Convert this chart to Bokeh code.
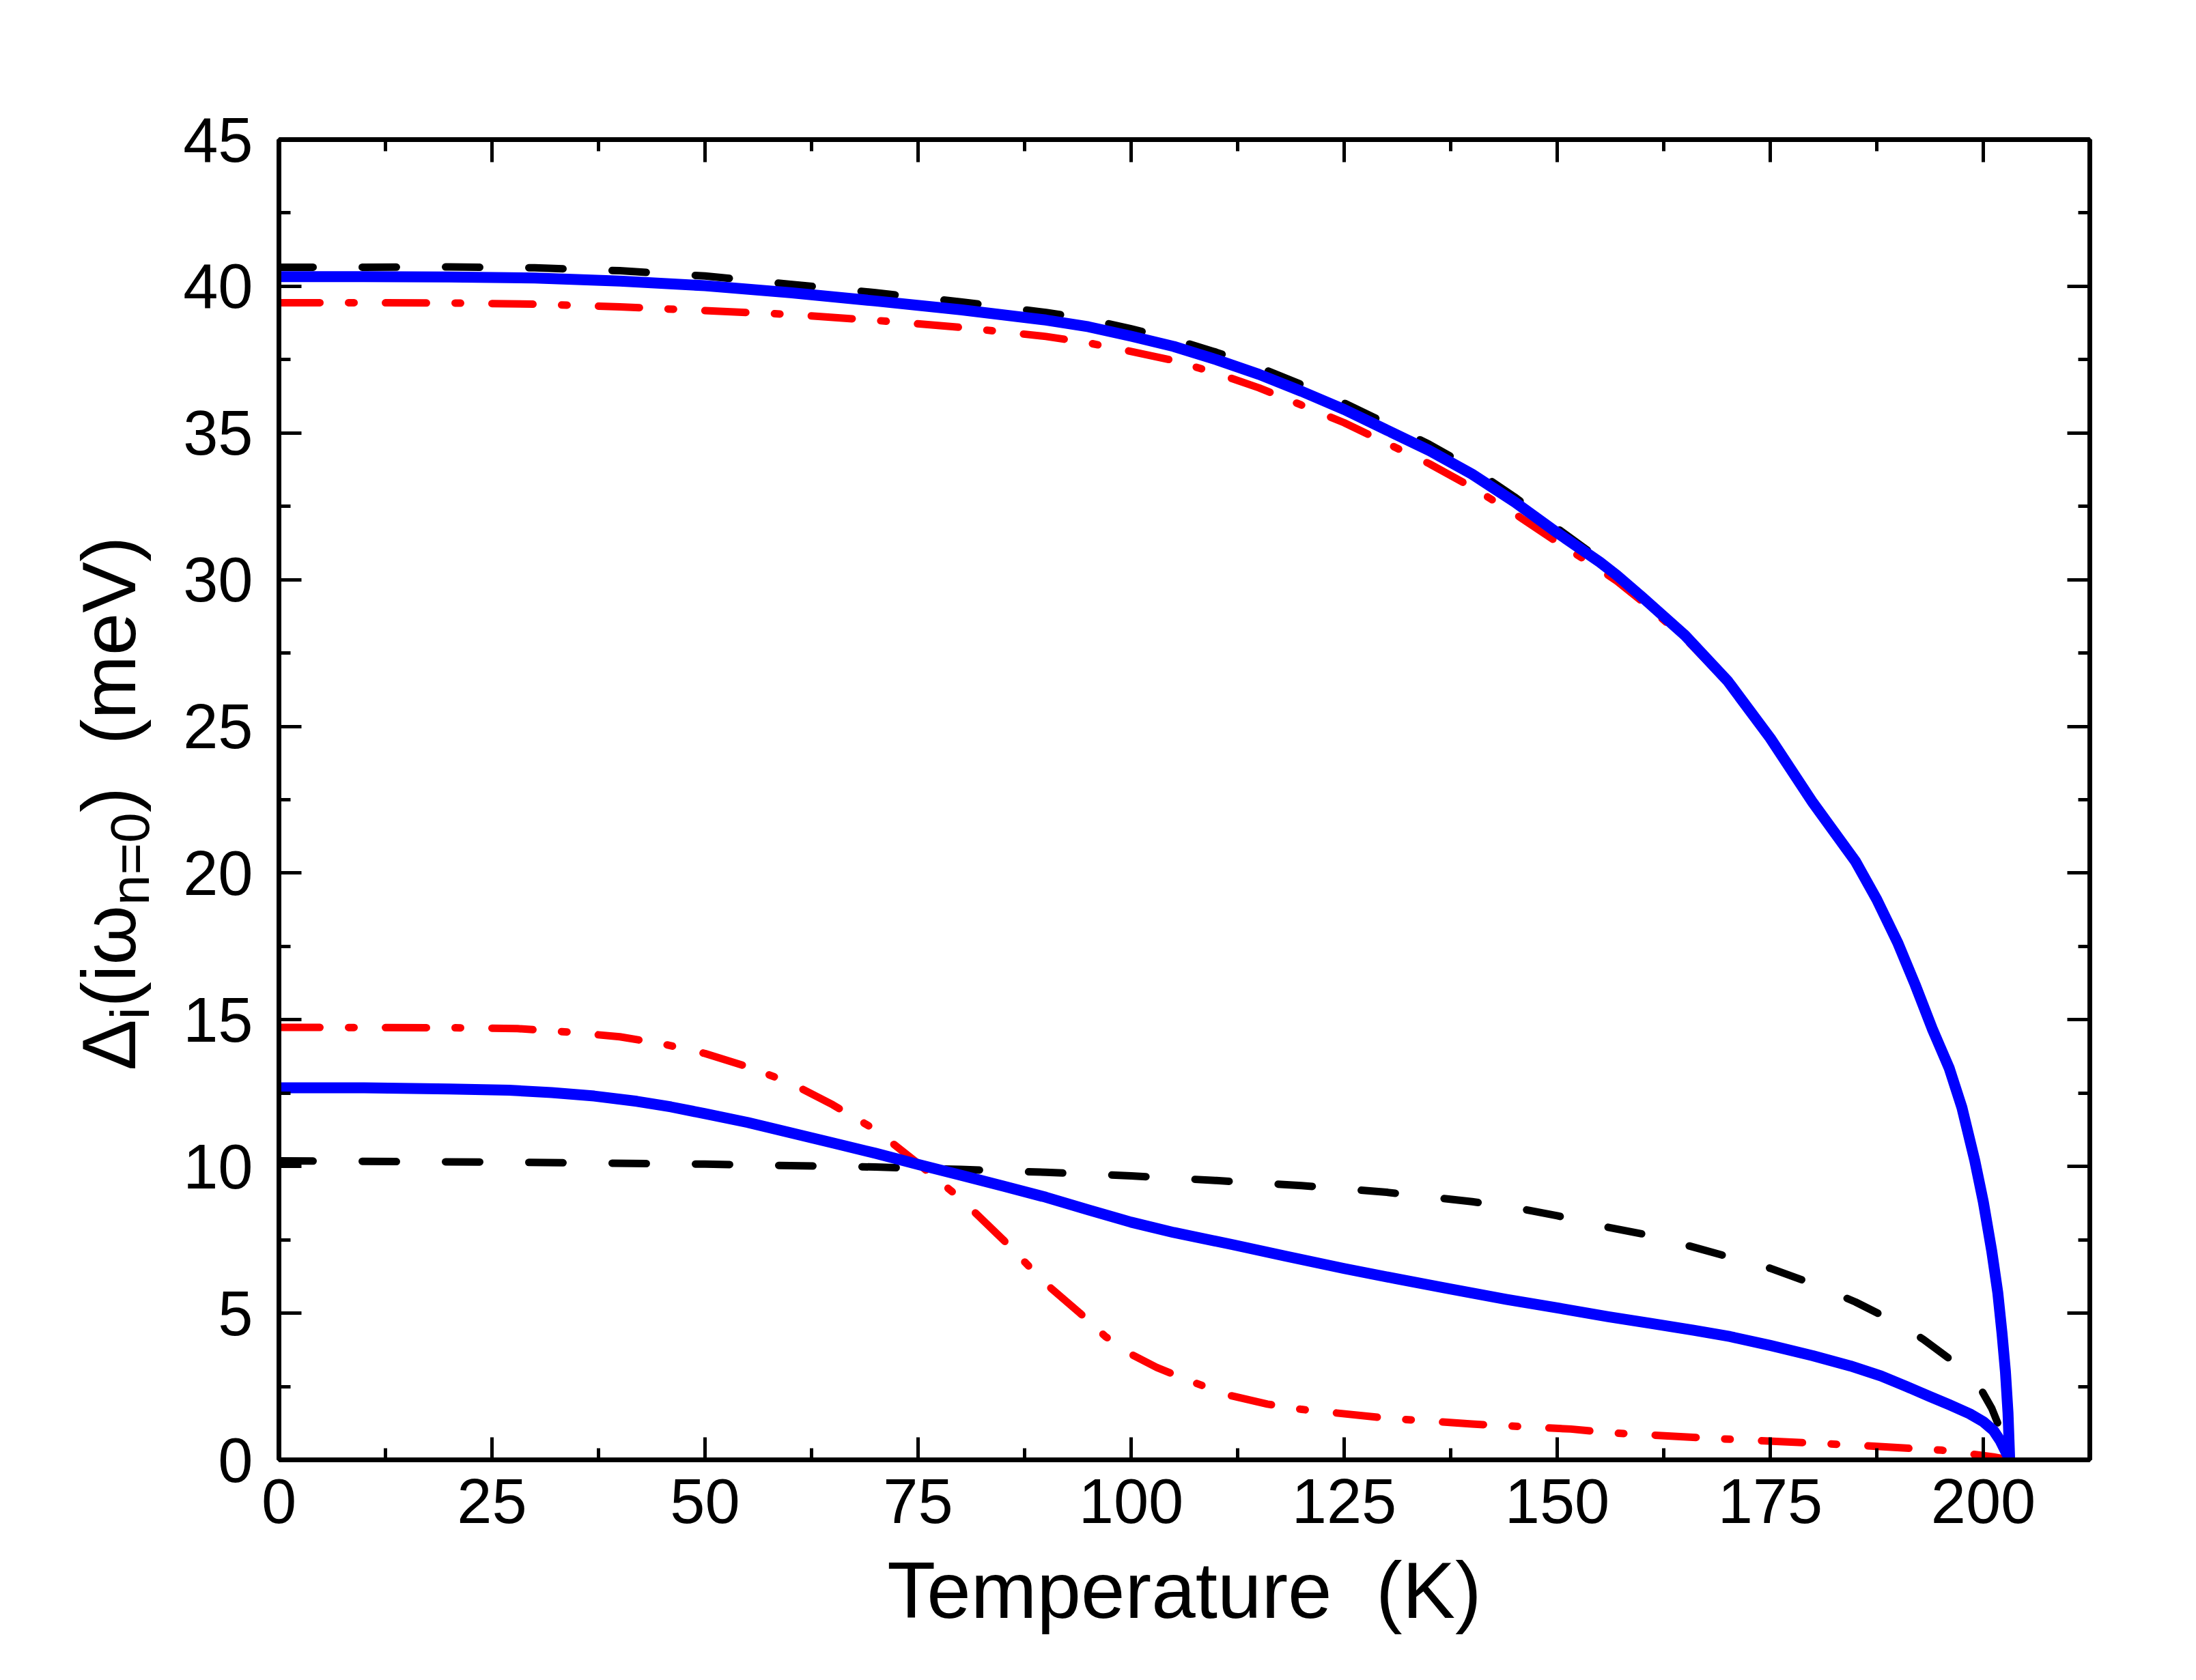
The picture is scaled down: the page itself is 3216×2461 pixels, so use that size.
import math
from bokeh.plotting import figure
from bokeh.models import LinearAxis, SingleIntervalTicker, Range1d
from bokeh.layouts import row
from bokeh.core.properties import value
from bokeh.embed import file_html
from bokeh.resources import INLINE

# ---- data (temperature in K, gap in meV) ----
T_blue_up = [0, 10, 20, 30, 40, 50, 60, 70, 80, 90, 95, 100, 105, 110, 115, 120, 125, 130, 135,
             140, 145, 150, 155, 157, 160, 165, 170, 175, 180, 185, 187.5, 190, 192, 194, 196,
             197.5, 199, 200, 201, 201.7, 202.2, 202.6, 202.9, 203.1]
D_blue_up = [40.33, 40.33, 40.32, 40.28, 40.18, 40.02, 39.78, 39.5, 39.2, 38.85, 38.62, 38.3,
             37.95, 37.5, 37.0, 36.42, 35.8, 35.1, 34.4, 33.6, 32.65, 31.6, 30.6, 30.15, 29.4,
             28.1, 26.55, 24.6, 22.4, 20.4, 19.1, 17.6, 16.2, 14.7, 13.35, 12.0, 10.2, 8.8, 7.1,
             5.7, 4.3, 3.0, 1.6, 0.0]

T_black_up = [0, 10, 20, 30, 40, 50, 60, 70, 80, 90, 95, 100, 105, 110, 115, 120, 125, 130, 135,
              140, 145, 150, 155, 160, 165, 170, 175, 180, 185, 187.5, 190, 192, 194, 196,
              197.5, 199, 200, 201, 201.7, 202.2, 202.6, 202.9, 203.1]
D_black_up = [40.65, 40.65, 40.66, 40.63, 40.53, 40.35, 40.07, 39.78, 39.47, 39.11, 38.88, 38.55,
              38.2, 37.75, 37.24, 36.65, 36.02, 35.32, 34.61, 33.8, 32.82, 31.75, 30.7, 29.45,
              28.1, 26.55, 24.6, 22.4, 20.4, 19.1, 17.6, 16.2, 14.7, 13.35, 12.0, 10.2, 8.8, 7.1,
              5.7, 4.3, 3.0, 1.6, 0.0]

T_red_up = [0, 10, 20, 30, 40, 50, 60, 70, 80, 90, 95, 100, 105, 110, 115, 120, 125, 130, 135,
            140, 145, 150, 155, 157, 160, 165, 170, 175, 180, 185, 187.5, 190, 192, 194, 196,
            197.5, 199, 200, 201, 201.7, 202.2, 202.6, 202.9, 203.1]
D_red_up = [39.44, 39.44, 39.43, 39.39, 39.3, 39.17, 39.04, 38.84, 38.6, 38.29, 38.07, 37.78,
            37.47, 37.04, 36.54, 35.95, 35.35, 34.65, 33.95, 33.15, 32.25, 31.28, 30.35, 29.95,
            29.25, 28.0, 26.5, 24.6, 22.4, 20.4, 19.1, 17.6, 16.2, 14.7, 13.35, 12.0, 10.2, 8.8,
            7.1, 5.7, 4.3, 3.0, 1.6, 0.0]

T_blue_lo = [0, 10, 20, 27, 32, 37, 42, 46, 50, 55, 60, 65, 70, 75, 80, 85, 90, 95, 100, 105,
             112, 118, 125, 131, 137, 144, 151.6, 156, 161, 166, 170.3, 175, 180, 184.4, 188, 191,
             193.7, 196, 198.4, 200, 201.2, 202, 202.6, 203.1]
D_blue_lo = [12.68, 12.68, 12.64, 12.6, 12.52, 12.4, 12.22, 12.03, 11.8, 11.5, 11.15, 10.8, 10.45,
             10.07, 9.7, 9.33, 8.95, 8.52, 8.1, 7.75, 7.33, 6.95, 6.52, 6.18, 5.85, 5.47, 5.1,
             4.88, 4.65, 4.42, 4.2, 3.9, 3.55, 3.2, 2.86, 2.5, 2.16, 1.88, 1.57, 1.3, 1.0, 0.65,
             0.3, 0.0]

T_black_lo = [0, 25, 50, 70, 80, 90, 100, 110, 120, 130, 140, 145, 150, 155, 160, 165, 170, 175,
              180, 185, 190, 193, 196, 198, 199.6, 201, 201.9, 202.6, 203.0]
D_black_lo = [10.19, 10.15, 10.08, 9.98, 9.9, 9.8, 9.68, 9.52, 9.35, 9.12, 8.8, 8.6, 8.32, 7.98,
              7.7, 7.33, 6.93, 6.53, 6.0, 5.38, 4.65, 4.1, 3.45, 2.95, 2.47, 1.75, 1.1, 0.5, 0.0]

T_red_lo = [0, 20, 28, 34, 40, 45, 50, 55, 60, 65, 70, 75, 80, 85, 90, 94, 97, 100, 103, 106.6,
            111.5, 116, 120, 130, 140, 151.6, 156.4, 169, 184.4, 195.1, 201.2, 203.0]
D_red_lo = [14.74, 14.73, 14.7, 14.58, 14.42, 14.18, 13.85, 13.4, 12.85, 12.1, 11.25, 10.1, 8.9,
            7.5, 6.0, 5.0, 4.2, 3.6, 3.15, 2.72, 2.2, 1.9, 1.72, 1.42, 1.22, 1.05, 0.92, 0.72,
            0.51, 0.33, 0.1, 0.0]

x_ticks = [0, 25, 50, 75, 100, 125, 150, 175, 200]
y_ticks = [0, 5, 10, 15, 20, 25, 30, 35, 40, 45]

FONT = "Liberation Sans"
H = 2453
LEFT_W = 250
B_TOP = 204
B_BOTTOM = 315

p = figure(width=2958, height=H, output_backend="svg", toolbar_location=None,
           x_range=Range1d(0, 212.5), y_range=Range1d(0, 45),
           min_border_left=158, min_border_right=148, min_border_top=B_TOP,
           min_border_bottom=B_BOTTOM)
p.background_fill_color = "white"
p.border_fill_color = "white"
p.grid.visible = False
p.outline_line_color = "black"
p.outline_line_width = 6


def style_axis(ax, xdir, show_labels):
    if xdir:
        ax.ticker = SingleIntervalTicker(interval=25, num_minor_ticks=2)
    else:
        ax.ticker = SingleIntervalTicker(interval=5, num_minor_ticks=2)
    ax.axis_line_color = "black"
    ax.axis_line_width = 7
    ax.major_tick_line_color = "black"
    ax.major_tick_line_width = 5
    ax.major_tick_in = 33
    ax.major_tick_out = 0
    ax.minor_tick_line_color = "black"
    ax.minor_tick_line_width = 5
    ax.minor_tick_in = 17
    ax.minor_tick_out = 0
    if show_labels:
        ax.major_label_text_font = FONT
        ax.major_label_text_font_size = "92px"
        ax.major_label_text_color = "black"
    else:
        ax.major_label_text_color = None
        ax.major_label_text_font_size = "1px"


xa = p.xaxis[0]
ya = p.yaxis[0]
style_axis(xa, True, True)
style_axis(ya, False, True)
xa.major_label_standoff = 28
ya.major_label_standoff = 38
xa.axis_label = "Temperature \u00a0(K)"
xa.axis_label_text_font = FONT
xa.axis_label_text_font_size = "116px"
xa.axis_label_text_font_style = "normal"
xa.axis_label_text_color = "black"
xa.axis_label_standoff = 31

top_ax = LinearAxis()
right_ax = LinearAxis()
style_axis(top_ax, True, False)
style_axis(right_ax, False, False)
p.add_layout(top_ax, "above")
p.add_layout(right_ax, "right")

# curves
dash_black = "50 72"
dash_red = "60 42 8 46"
p.line(T_black_up, D_black_up, line_color="black", line_width=11, line_dash=dash_black, line_cap="round", line_join="round")
p.line(T_black_lo, D_black_lo, line_color="black", line_width=11, line_dash=dash_black, line_cap="round", line_join="round")
p.line(T_red_up, D_red_up, line_color="red", line_width=11, line_dash=dash_red, line_cap="round", line_join="round")
p.line(T_red_lo, D_red_lo, line_color="red", line_width=11, line_dash=dash_red, line_cap="round", line_join="round")
p.line(T_blue_up, D_blue_up, line_color="blue", line_width=16, line_join="round")
p.line(T_blue_lo, D_blue_lo, line_color="blue", line_width=16, line_join="round")

# ---- rotated y-axis title (with subscripts) in a narrow left panel ----
q = figure(width=LEFT_W, height=H, output_backend="svg", toolbar_location=None,
           x_range=Range1d(0, LEFT_W), y_range=Range1d(B_BOTTOM, H - B_TOP),
           min_border_left=0, min_border_right=0, min_border_top=B_TOP,
           min_border_bottom=B_BOTTOM, x_axis_location=None, y_axis_location=None)
q.grid.visible = False
q.outline_line_color = None
q.background_fill_color = "white"
q.border_fill_color = "white"

S_main = 112
S_sub = 80
char_w = {"Δ": 0.668, "ω": 0.781, "i": 0.222, "(": 0.333, ")": 0.333, " ": 0.278,
          "m": 0.833, "e": 0.556, "V": 0.667, "n": 0.556, "=": 0.584, "0": 0.556}
pieces = [("Δ", S_main, False), ("i", S_sub, True), ("(iω", S_main, False),
          ("n=0", S_sub, True), (")", S_main, False), ("  ", S_main, False),
          ("(meV)", S_main, False)]
total = sum(sum(char_w[c] for c in t) * sz for t, sz, _ in pieces)
center_y = H - 1176.5
base_x = 159
sub_x = 190
pos = center_y - total / 2
for t, sz, sub in pieces:
    w = sum(char_w[c] for c in t) * sz
    if t.strip():
        q.text(x=[sub_x if sub else base_x], y=[pos], text=[t], angle=math.pi / 2,
               text_font=value(FONT), text_font_size=value(f"{sz}px"), text_color="black",
               text_align="left", text_baseline="alphabetic")
    pos += w

layout = row(q, p)
open("out.html", "w").write(file_html(layout, INLINE))
